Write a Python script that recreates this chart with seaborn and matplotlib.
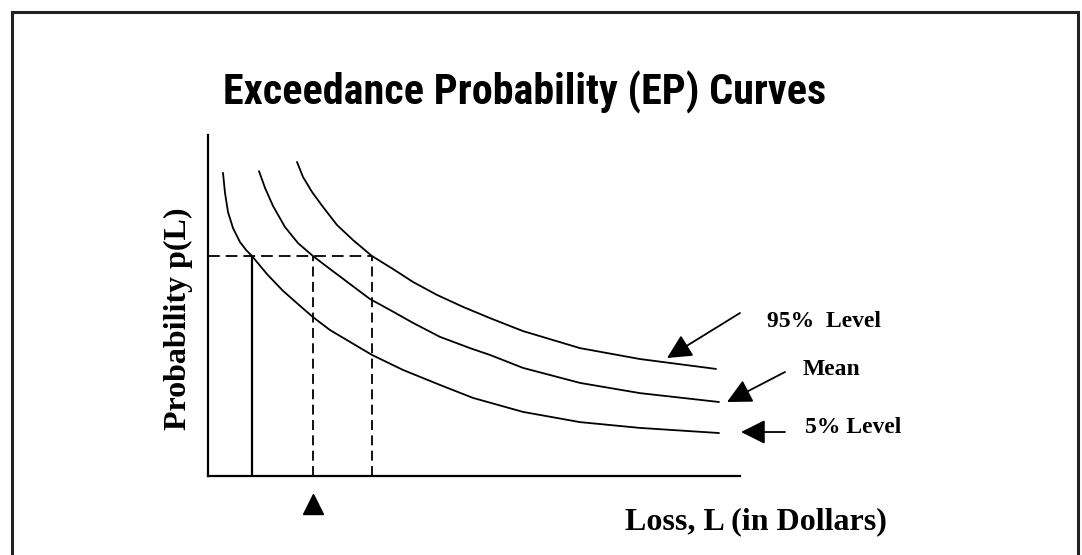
import matplotlib
matplotlib.use("Agg")
import matplotlib.pyplot as plt
from matplotlib.patches import Rectangle
import seaborn as sns
import pandas as pd

# values (loss in arbitrary units, probability 0-1)
loss_5 = [15, 17, 20, 25, 32, 38, 44, 59, 75, 92, 105, 122, 164, 195, 232,
          265, 315, 372, 432, 511]
prob_5 = [0.889, 0.830, 0.774, 0.727, 0.686, 0.663, 0.645, 0.592, 0.543,
          0.499, 0.466, 0.428, 0.355, 0.311, 0.267, 0.229, 0.188, 0.158,
          0.141, 0.126]

loss_mean = [51, 57, 65, 77, 90, 105, 122, 162, 182, 205, 232, 262, 282, 315,
             372, 432, 511]
prob_mean = [0.894, 0.845, 0.792, 0.730, 0.683, 0.645, 0.607, 0.519, 0.487,
             0.449, 0.408, 0.375, 0.355, 0.317, 0.273, 0.243, 0.217]

loss_95 = [89, 95, 104, 115, 129, 145, 164, 185, 205, 229, 255, 282, 315, 372,
           432, 508]
prob_95 = [0.921, 0.877, 0.833, 0.789, 0.736, 0.692, 0.645, 0.607, 0.569,
           0.531, 0.496, 0.463, 0.425, 0.375, 0.343, 0.314]

level_names = ["5% Level", "Mean", "95%  Level"]
threshold_prob = 0.645
threshold_losses = [44, 105, 164]   # 5%, mean, 95% losses at the threshold

df = pd.concat([
    pd.DataFrame({"loss": loss_5, "prob": prob_5, "level": level_names[0]}),
    pd.DataFrame({"loss": loss_mean, "prob": prob_mean, "level": level_names[1]}),
    pd.DataFrame({"loss": loss_95, "prob": prob_95, "level": level_names[2]}),
])

sns.set_style("white")
plt.rcParams["font.family"] = ["Liberation Serif", "DejaVu Serif"]
plt.rcParams["text.color"] = "black"

W, H = 1082, 555
fig = plt.figure(figsize=(W / 100, H / 100), dpi=100)
ax = fig.add_axes([208 / W, (H - 476) / H, 532 / W, 341 / H])

sns.lineplot(data=df, x="loss", y="prob", hue="level", units="level",
             estimator=None, sort=False, palette=["black"] * 3,
             legend=False, lw=1.3, ax=ax)

# threshold guide lines
ax.hlines(threshold_prob, 0, threshold_losses[2], colors="black", lw=1.3,
          linestyles=(0, (6.5, 3.3)))
ax.vlines(threshold_losses[0], 0, threshold_prob, colors="black", lw=1.6)
ax.vlines(threshold_losses[1:], 0, threshold_prob, colors="black", lw=1.3,
          linestyles=(0, (5.5, 3)))
ax.plot([threshold_losses[1]], [-0.082], marker="^", ms=15, color="black",
        clip_on=False)

ax.set_xlim(0, 532)
ax.set_ylim(0, 1)
ax.set_xticks([])
ax.set_yticks([])
ax.set_xlabel("")
ax.set_ylabel("")
sns.despine(ax=ax)
for side in ["left", "bottom"]:
    ax.spines[side].set_linewidth(1.6)
    ax.spines[side].set_color("black")

# labels with arrows
arrow = dict(arrowstyle="-|>,head_length=1.0,head_width=0.5", mutation_scale=15,
             color="black", lw=1.3, shrinkA=0, shrinkB=0)
label_font = dict(fontsize=17, fontweight="bold", va="center", ha="left")
ax.annotate("", xy=(459, 0.346), xytext=(532, 0.478), arrowprops=arrow,
            annotation_clip=False)
ax.text(559, 0.452, level_names[2], **label_font)
ax.annotate("", xy=(519, 0.217), xytext=(577, 0.305), arrowprops=arrow,
            annotation_clip=False)
ax.text(595, 0.311, level_names[1], **label_font)
ax.annotate("", xy=(533, 0.129), xytext=(577, 0.129), arrowprops=arrow,
            annotation_clip=False)
ax.text(597, 0.141, level_names[0], **label_font)

# axis titles
fig.text(625 / W, 1 - 522 / H, "Loss, L (in Dollars)", fontsize=23,
         fontweight="bold", ha="left", va="center")
fig.text(178 / W, 1 - 319 / H, "Probability p(L)", fontsize=23,
         fontweight="bold", rotation=90, ha="center", va="center")

# chart title
fig.text(525 / W, 1 - 104 / H, "Exceedance Probability (EP) Curves",
         fontsize=30.3, fontweight="bold", ha="center", va="baseline",
         family=["Roboto Condensed", "Liberation Sans"])

# outer frame
fig.patches.append(Rectangle((12 / W, -0.05), (1078 - 12) / W, 1.05 - 12 / H,
                             transform=fig.transFigure, fill=False,
                             edgecolor="#222222", lw=2.2))

fig.savefig("out.png", dpi=100)
